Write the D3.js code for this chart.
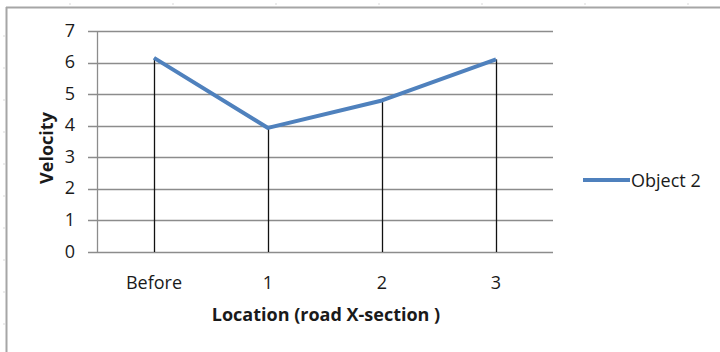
<!DOCTYPE html>
<html>
<head>
<meta charset="utf-8">
<script src="https://cdn.jsdelivr.net/npm/d3@7"></script>
<style>
  html, body { margin: 0; padding: 0; background: #fff; }
  svg { display: block; }
  text { font-family: "Open Sans", "Noto Sans", sans-serif; fill: #1a1a1a; }
</style>
</head>
<body>
<svg id="chart" width="720" height="352"></svg>
<script>
// Velocity of Object 2 at each road cross-section
const categories = ["Before", "1", "2", "3"];
const velocity = [6.15, 3.93, 4.8, 6.1];
const yTicks = [0, 1, 2, 3, 4, 5, 6, 7];
const seriesName = "Object 2";

const svg = d3.select("#chart");
const W = 720, H = 352;
const plot = { left: 97, right: 553, top: 31, bottom: 252 };
const FS = 18;

// Worksheet frame behind the chart
svg.append("rect").attr("width", W).attr("height", H).attr("fill", "#fff");
const frame = svg.append("g");
frame.append("line").attr("x1", 6.5).attr("x2", 6.5).attr("y1", 7).attr("y2", H)
  .attr("stroke", "#a6a6a6").attr("stroke-width", 2);
frame.append("line").attr("x1", 6).attr("x2", W).attr("y1", 7.5).attr("y2", 7.5)
  .attr("stroke", "#a6a6a6").attr("stroke-width", 2);
// faint cell marks outside the frame
for (let y = 36; y < H; y += 32) {
  frame.append("line").attr("x1", 3).attr("x2", 5).attr("y1", y).attr("y2", y)
    .attr("stroke", "#d9d9d9");
}
for (let x = 70; x < W; x += 103) {
  frame.append("line").attr("x1", x).attr("x2", x).attr("y1", 3).attr("y2", 5)
    .attr("stroke", "#d9d9d9");
}

const x = d3.scaleBand().domain(categories).range([plot.left, plot.right]);
const y = d3.scaleLinear().domain([0, 7]).range([plot.bottom, plot.top]);

// Horizontal gridlines with ticks extending left of the axis
const grid = svg.append("g");
grid.selectAll("line").data(yTicks).join("line")
  .attr("x1", plot.left - 9).attr("x2", plot.right)
  .attr("y1", d => Math.round(y(d)) + 0.5).attr("y2", d => Math.round(y(d)) + 0.5)
  .attr("stroke", "#8c8c8c").attr("stroke-width", 1.3);

// Vertical value axis line
svg.append("line")
  .attr("x1", plot.left + 0.5).attr("x2", plot.left + 0.5)
  .attr("y1", plot.top).attr("y2", plot.bottom + 0.5)
  .attr("stroke", "#8c8c8c").attr("stroke-width", 1.3);

// Y tick labels
svg.append("g").selectAll("text").data(yTicks).join("text")
  .attr("x", 75).attr("y", d => y(d) + 5.5)
  .attr("text-anchor", "end").attr("font-size", FS)
  .text(d => d);

// X tick labels
svg.append("g").selectAll("text").data(categories).join("text")
  .attr("x", d => x(d) + x.bandwidth() / 2).attr("y", 289)
  .attr("text-anchor", "middle").attr("font-size", FS)
  .text(d => d);

const pts = categories.map((c, i) => ({ c, v: velocity[i] }));
const cx = d => x(d.c) + x.bandwidth() / 2;

// Drop lines from each point to the category axis
svg.append("g").selectAll("line").data(pts).join("line")
  .attr("x1", d => Math.round(cx(d)) + 0.5).attr("x2", d => Math.round(cx(d)) + 0.5)
  .attr("y1", d => y(d.v)).attr("y2", plot.bottom)
  .attr("stroke", "#111").attr("stroke-width", 1.3);

// Series line
svg.append("path").datum(pts)
  .attr("d", d3.line().x(cx).y(d => y(d.v)))
  .attr("fill", "none").attr("stroke", "#4f81bd").attr("stroke-width", 4)
  .attr("stroke-linejoin", "round");

// Axis titles
svg.append("text")
  .attr("x", 326).attr("y", 321)
  .attr("text-anchor", "middle").attr("font-size", FS).attr("font-weight", "bold")
  .text("Location (road X-section )");
svg.append("text")
  .attr("transform", "translate(53,148) rotate(-90)")
  .attr("text-anchor", "middle").attr("font-size", FS).attr("font-weight", "bold")
  .text("Velocity");

// Legend
const lg = svg.append("g").attr("transform", "translate(583,180)");
lg.append("line").attr("x1", 0).attr("x2", 47).attr("y1", 0).attr("y2", 0)
  .attr("stroke", "#4f81bd").attr("stroke-width", 4);
lg.append("text").attr("x", 48).attr("y", 6.5)
  .attr("font-size", FS).text(seriesName);
</script>
</body>
</html>
